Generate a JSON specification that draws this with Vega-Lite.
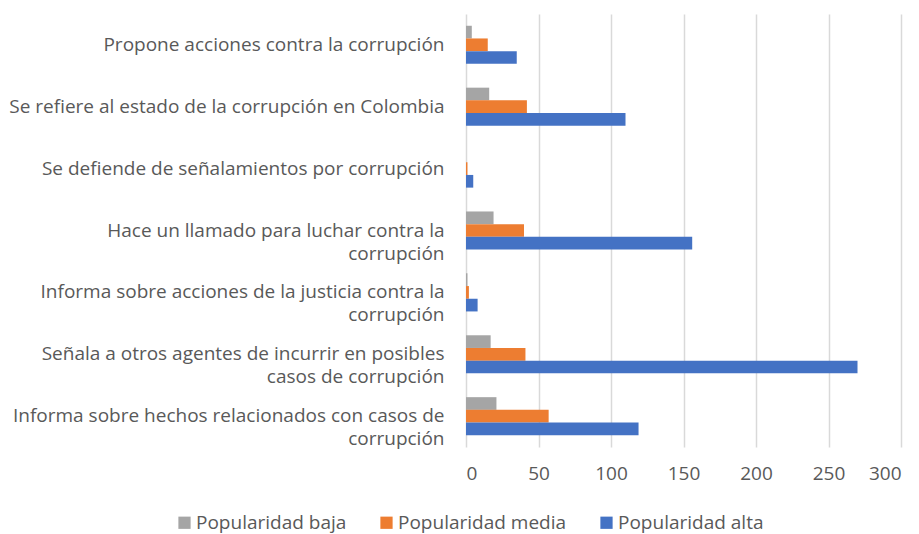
{
  "$schema": "https://vega.github.io/schema/vega-lite/v6.json",
  "width": 435,
  "height": 433,
  "autosize": {"type": "none"},
  "padding": {"left": 466, "top": 14, "right": 18, "bottom": 87},
  "config": {"font": "Open Sans", "view": {"stroke": null}},
  "data": {
    "values": [
      {"categoria": "Propone acciones contra la corrupción", "serie": "Popularidad baja", "valor": 4},
      {"categoria": "Propone acciones contra la corrupción", "serie": "Popularidad media", "valor": 15},
      {"categoria": "Propone acciones contra la corrupción", "serie": "Popularidad alta", "valor": 35},
      {"categoria": "Se refiere al estado de la corrupción en Colombia", "serie": "Popularidad baja", "valor": 16},
      {"categoria": "Se refiere al estado de la corrupción en Colombia", "serie": "Popularidad media", "valor": 42},
      {"categoria": "Se refiere al estado de la corrupción en Colombia", "serie": "Popularidad alta", "valor": 110},
      {"categoria": "Se defiende de señalamientos por corrupción", "serie": "Popularidad baja", "valor": 0},
      {"categoria": "Se defiende de señalamientos por corrupción", "serie": "Popularidad media", "valor": 1},
      {"categoria": "Se defiende de señalamientos por corrupción", "serie": "Popularidad alta", "valor": 5},
      {"categoria": "Hace un llamado para luchar contra la corrupción", "serie": "Popularidad baja", "valor": 19},
      {"categoria": "Hace un llamado para luchar contra la corrupción", "serie": "Popularidad media", "valor": 40},
      {"categoria": "Hace un llamado para luchar contra la corrupción", "serie": "Popularidad alta", "valor": 156},
      {"categoria": "Informa sobre acciones de la justicia contra la corrupción", "serie": "Popularidad baja", "valor": 1},
      {"categoria": "Informa sobre acciones de la justicia contra la corrupción", "serie": "Popularidad media", "valor": 2},
      {"categoria": "Informa sobre acciones de la justicia contra la corrupción", "serie": "Popularidad alta", "valor": 8},
      {"categoria": "Señala a otros agentes de incurrir en posibles casos de corrupción", "serie": "Popularidad baja", "valor": 17},
      {"categoria": "Señala a otros agentes de incurrir en posibles casos de corrupción", "serie": "Popularidad media", "valor": 41},
      {"categoria": "Señala a otros agentes de incurrir en posibles casos de corrupción", "serie": "Popularidad alta", "valor": 270},
      {"categoria": "Informa sobre hechos relacionados con casos de corrupción", "serie": "Popularidad baja", "valor": 21},
      {"categoria": "Informa sobre hechos relacionados con casos de corrupción", "serie": "Popularidad media", "valor": 57},
      {"categoria": "Informa sobre hechos relacionados con casos de corrupción", "serie": "Popularidad alta", "valor": 119}
    ]
  },
  "mark": {"type": "bar"},
  "encoding": {
    "y": {
      "field": "categoria",
      "type": "nominal",
      "sort": [
        "Propone acciones contra la corrupción",
        "Se refiere al estado de la corrupción en Colombia",
        "Se defiende de señalamientos por corrupción",
        "Hace un llamado para luchar contra la corrupción",
        "Informa sobre acciones de la justicia contra la corrupción",
        "Señala a otros agentes de incurrir en posibles casos de corrupción",
        "Informa sobre hechos relacionados con casos de corrupción"
      ],
      "scale": {"paddingInner": 0.385, "paddingOuter": 0.19},
      "axis": {
        "title": null,
        "domain": false,
        "ticks": false,
        "tickSize": 0,
        "labelPadding": 22,
        "labelFontSize": 19,
        "labelColor": "#595959",
        "labelLimit": 470,
        "labelLineHeight": 23,
        "labelExpr": "datum.label == 'Hace un llamado para luchar contra la corrupción' ? ['Hace un llamado para luchar contra la','corrupción'] : datum.label == 'Informa sobre acciones de la justicia contra la corrupción' ? ['Informa sobre acciones de la justicia contra la','corrupción'] : datum.label == 'Señala a otros agentes de incurrir en posibles casos de corrupción' ? ['Señala a otros agentes de incurrir en posibles','casos de corrupción'] : datum.label == 'Informa sobre hechos relacionados con casos de corrupción' ? ['Informa sobre hechos relacionados con casos de','corrupción'] : datum.label",
        "encode": {
          "labels": {
            "align": {
              "condition": {"test": "indexof(['Hace un llamado para luchar contra la corrupción','Informa sobre acciones de la justicia contra la corrupción','Señala a otros agentes de incurrir en posibles casos de corrupción','Informa sobre hechos relacionados con casos de corrupción'], datum.value) >= 0", "value": "center"},
              "value": "right"
            },
            "dx": {
              "condition": [
                {"test": "datum.value == 'Hace un llamado para luchar contra la corrupción'", "value": -167.5},
                {"test": "datum.value == 'Informa sobre acciones de la justicia contra la corrupción'", "value": -200.5},
                {"test": "datum.value == 'Señala a otros agentes de incurrir en posibles casos de corrupción'", "value": -200.5},
                {"test": "datum.value == 'Informa sobre hechos relacionados con casos de corrupción'", "value": -214.5}
              ],
              "value": 0
            }
          }
        }
      }
    },
    "yOffset": {
      "field": "serie",
      "type": "nominal",
      "sort": ["Popularidad baja", "Popularidad media", "Popularidad alta"]
    },
    "x": {
      "field": "valor",
      "type": "quantitative",
      "scale": {"domain": [0, 300], "nice": false},
      "axis": {
        "title": null,
        "domain": false,
        "ticks": false,
        "tickSize": 0,
        "values": [0, 50, 100, 150, 200, 250, 300],
        "grid": true,
        "gridColor": "#D9D9D9",
        "gridWidth": 1.5,
        "labelPadding": 17,
        "labelFontSize": 19,
        "labelColor": "#595959"
      }
    },
    "color": {
      "field": "serie",
      "type": "nominal",
      "sort": ["Popularidad baja", "Popularidad media", "Popularidad alta"],
      "scale": {
        "domain": ["Popularidad baja", "Popularidad media", "Popularidad alta"],
        "range": ["#A5A5A5", "#ED7D31", "#4472C4"]
      },
      "legend": {
        "title": null,
        "orient": "none",
        "direction": "horizontal",
        "legendX": -291,
        "legendY": 499,
        "symbolType": "square",
        "symbolSize": 150,
        "symbolStrokeWidth": 0,
        "labelFontSize": 19,
        "labelColor": "#595959",
        "labelOffset": 2,
        "labelLimit": 300,
        "columnPadding": 30
      }
    }
  }
}
